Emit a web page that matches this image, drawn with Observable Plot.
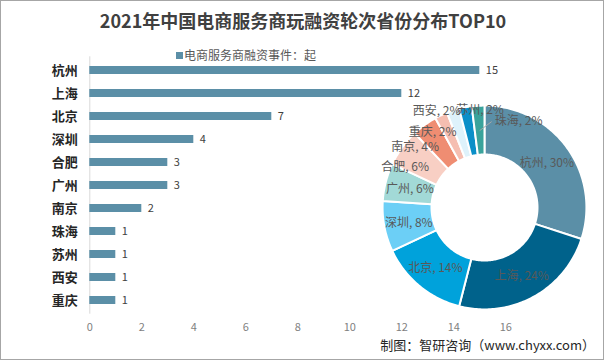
<!DOCTYPE html>
<html>
<head>
<meta charset="utf-8">
<script src="https://cdn.jsdelivr.net/npm/d3@7"></script>
<script src="https://cdn.jsdelivr.net/npm/@observablehq/plot@0.6"></script>
<style>
  html, body { margin: 0; padding: 0; background: #fff; }
  #wrap { position: relative; width: 606px; height: 360px; overflow: hidden; background: #fff;
          font-family: "Microsoft YaHei", "Noto Sans CJK SC", sans-serif; }
  #frame { position: absolute; left: 0; top: 0; width: 604px; height: 360px; box-sizing: border-box;
           border: 1px solid #a6a6a6; pointer-events: none; }
  #title { position: absolute; left: 0; width: 606px; top: 8px; text-align: center;
           font-size: 18px; font-weight: bold; color: #404040; line-height: 24px; }
  #legend { position: absolute; left: 176px; top: 46px; font-size: 12px; color: #595959; line-height: 18px;
            display: flex; align-items: center; white-space: nowrap; }
  #legend .sw { width: 7px; height: 7px; margin-right: 1px; display: inline-block; }
  #footer { position: absolute; right: 11px; top: 335px; font-size: 13px; color: #262626; line-height: 20px; white-space: nowrap; }
  #bars { position: absolute; left: 0; top: 0; }
  #donut { position: absolute; left: 378px; top: 101px; }
</style>
</head>
<body>
<div id="wrap">
  <div id="bars"></div>
  <div id="donut"></div>
  <div id="title"></div>
  <div id="legend"><span class="sw"></span><span id="legtext"></span></div>
  <div id="footer"></div>
  <div id="frame"></div>
</div>
<script>
// ---- data ----
const titleText = "2021年中国电商服务商玩融资轮次省份分布TOP10";
const legendLabel = "电商服务商融资事件：起";
const footerText = "制图：智研咨询（www.chyxx.com）";
const cities = ["杭州", "上海", "北京", "深圳", "合肥", "广州", "南京", "珠海", "苏州", "西安", "重庆"];
const counts = [15, 12, 7, 4, 3, 3, 2, 1, 1, 1, 1];
const xTicks = [0, 2, 4, 6, 8, 10, 12, 14, 16];
const pieOrder = ["杭州", "上海", "北京", "深圳", "广州", "合肥", "南京", "重庆", "西安", "苏州", "珠海"];
const pieColors = ["#5b8fa7", "#00628b", "#00a2db", "#6ccff6", "#a2d9d7", "#f8cfc4", "#ef8d72", "#f5beb1", "#def2fb", "#0b8fc8", "#3aa39b"];

// ---- styling / layout constants ----
const barColor = "#5b8fa7";
const font = "'Microsoft YaHei', 'Noto Sans CJK SC', sans-serif";
// pixel nudges for crowded donut labels (layout only)
const labelNudge = {"合肥": [-17, 5], "南京": [-24, 2], "重庆": [-19, -6], "西安": [-24, -23], "苏州": [10, -22], "珠海": [39, -9]};

document.getElementById("title").textContent = titleText;
document.getElementById("legtext").textContent = legendLabel;
document.querySelector("#legend .sw").style.background = barColor;
document.getElementById("footer").textContent = footerText;

const data = cities.map((c, i) => ({city: c, count: counts[i]}));

// ---- bar chart ----
const bars = Plot.plot({
  width: 606, height: 345,
  marginLeft: 89.3, marginRight: 100.7, marginTop: 56.3, marginBottom: 31.3,
  style: {fontFamily: font, background: "transparent"},
  x: {domain: [0, 16]},
  y: {domain: cities, paddingInner: 0.66, paddingOuter: 0.33},
  marks: [
    Plot.ruleX([0], {stroke: "#d9d9d9"}),
    Plot.barX(data, {x: "count", y: "city", fill: barColor}),
    Plot.text(data, {x: "count", y: "city", text: d => String(d.count), dx: 6, textAnchor: "start", fill: "#404040", fontSize: 11}),
    Plot.axisX({ticks: xTicks, tickSize: 0, tickPadding: 9, color: "#7f7f7f", fontSize: 11, label: null, tickFormat: d => String(d)}),
    Plot.axisY({tickSize: 0, tickPadding: 12, fontSize: 13, fontWeight: "bold", color: "#262626", label: null})
  ]
});
document.getElementById("bars").appendChild(bars);

// ---- donut ----
const total = d3.sum(counts);
const pieData = pieOrder.map((c, i) => ({city: c, count: counts[cities.indexOf(c)], color: pieColors[i]}));
const arcs = d3.pie().sort(null).value(d => d.count)(pieData);
const rOuter = 1.0, rInner = 0.52, rLabel = 0.756;
const size = 212, dom = 1.04, ppu = size / (2 * dom);
const poly = [];
for (const a of arcs) {
  const n = Math.max(2, Math.ceil((a.endAngle - a.startAngle) / (Math.PI / 180)));
  const pts = [];
  for (let k = 0; k <= n; k++) {
    const t = a.startAngle + (a.endAngle - a.startAngle) * k / n;
    pts.push({city: a.data.city, x: rOuter * Math.sin(t), y: -rOuter * Math.cos(t)});
  }
  for (let k = n; k >= 0; k--) {
    const t = a.startAngle + (a.endAngle - a.startAngle) * k / n;
    pts.push({city: a.data.city, x: rInner * Math.sin(t), y: -rInner * Math.cos(t)});
  }
  pts.push({...pts[0]});
  poly.push(...pts);
}
const labels = arcs.map(a => {
  const m = (a.startAngle + a.endAngle) / 2;
  const nud = labelNudge[a.data.city] || [0, 1];
  return {
    city: a.data.city,
    ax: rLabel * Math.sin(m), ay: -rLabel * Math.cos(m),
    x: rLabel * Math.sin(m) + nud[0] / ppu, y: -rLabel * Math.cos(m) + nud[1] / ppu,
    text: a.data.city + ", " + Math.round(a.data.count / total * 100) + "%"
  };
});
const leader = labels.filter(d => d.city === "珠海").map(d => ({x1: d.ax, y1: d.ay, x2: d.x - 27 / ppu, y2: d.y}));

const donut = Plot.plot({
  width: size, height: size, margin: 0,
  style: {fontFamily: font, background: "transparent", overflow: "visible"},
  x: {domain: [-dom, dom], range: [0, size], axis: null},
  y: {domain: [-dom, dom], range: [0, size], axis: null},
  color: {domain: pieOrder, range: pieColors},
  marks: [
    Plot.line(poly, {x: "x", y: "y", z: "city", fill: "city", stroke: "white", strokeWidth: 2, curve: "linear"}),
    Plot.link(leader, {x1: "x1", y1: "y1", x2: "x2", y2: "y2", stroke: "#a6a6a6", strokeWidth: 1}),
    Plot.text(labels, {x: "x", y: "y", text: "text", fill: "#595959", fontSize: 12})
  ]
});
document.getElementById("donut").appendChild(donut);
</script>
</body>
</html>
